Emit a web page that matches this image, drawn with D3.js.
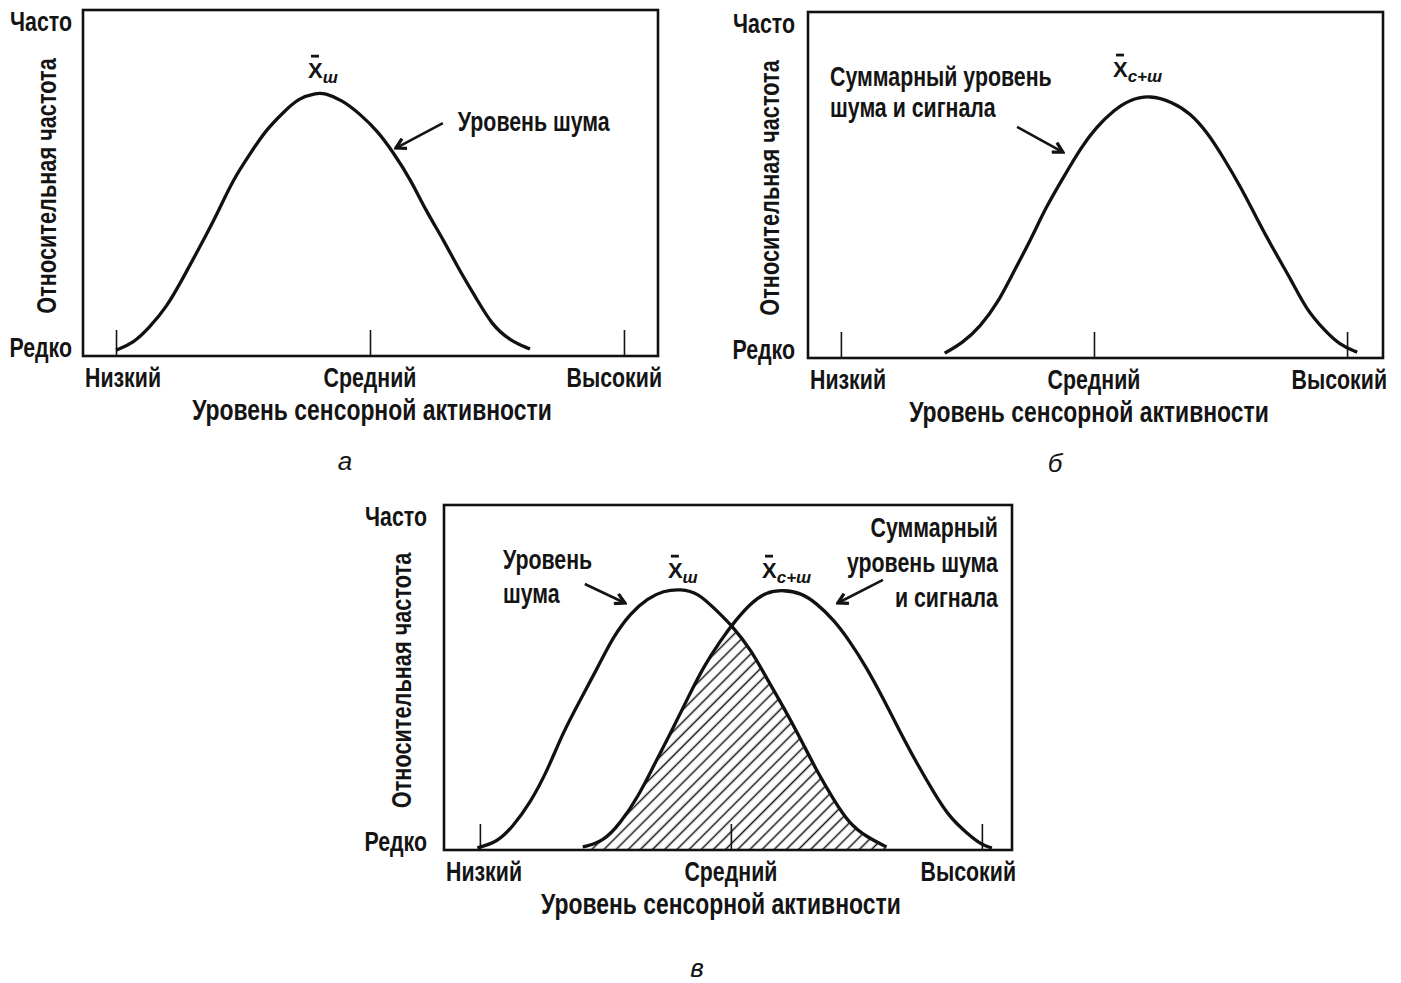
<!DOCTYPE html>
<html>
<head>
<meta charset="utf-8">
<script src="https://cdn.jsdelivr.net/npm/d3@7"></script>
<style>
  body { margin: 0; background: #fff; }
  text { font-family: "Liberation Sans", Arial, sans-serif; font-weight: bold; fill: #141414; }
</style>
</head>
<body>
<script>
// x axis: three marked levels of sensory activity
const tickLevels = [1, 2, 3];
const tickLabels = ["Низкий", "Средний", "Высокий"];
const yEndLabels = ["Часто", "Редко"];
const xTitle = "Уровень сенсорной активности";
const yTitle = "Относительная частота";
const panelLetters = ["а", "б", "в"];

// [level, relative frequency]
const noiseA = [[1.00,0.017],[1.07,0.038],[1.13,0.081],[1.20,0.142],[1.26,0.22],[1.33,0.315],[1.40,0.413],[1.46,0.509],[1.53,0.587],[1.59,0.653],[1.66,0.705],[1.72,0.746],[1.79,0.76],[1.82,0.76],[1.89,0.74],[1.96,0.70],[2.03,0.65],[2.09,0.59],[2.16,0.51],[2.22,0.42],[2.29,0.335],[2.35,0.25],[2.42,0.165],[2.48,0.09],[2.55,0.045],[2.63,0.02]];
const signalB = [[1.41,0.014],[1.48,0.043],[1.55,0.09],[1.62,0.159],[1.68,0.246],[1.75,0.341],[1.81,0.436],[1.88,0.523],[1.95,0.61],[2.01,0.668],[2.08,0.717],[2.14,0.746],[2.22,0.76],[2.31,0.74],[2.38,0.708],[2.45,0.65],[2.51,0.581],[2.58,0.494],[2.64,0.408],[2.71,0.312],[2.78,0.225],[2.84,0.139],[2.91,0.081],[2.97,0.038],[3.04,0.017]];
const noiseC = [[0.99,0.006],[1.07,0.023],[1.13,0.067],[1.20,0.136],[1.27,0.232],[1.33,0.339],[1.40,0.435],[1.47,0.53],[1.53,0.617],[1.60,0.687],[1.67,0.73],[1.73,0.751],[1.80,0.757],[1.87,0.745],[1.94,0.696],[2.01,0.646],[2.08,0.58],[2.14,0.501],[2.21,0.414],[2.28,0.319],[2.34,0.232],[2.41,0.145],[2.47,0.078],[2.54,0.038],[2.62,0.009]];
const signalC = [[1.41,0.009],[1.49,0.023],[1.56,0.078],[1.63,0.154],[1.69,0.241],[1.76,0.339],[1.83,0.443],[1.89,0.53],[1.96,0.609],[2.02,0.667],[2.08,0.716],[2.14,0.748],[2.21,0.754],[2.28,0.745],[2.34,0.716],[2.41,0.667],[2.47,0.609],[2.54,0.53],[2.61,0.435],[2.67,0.348],[2.74,0.252],[2.81,0.165],[2.87,0.096],[2.94,0.049],[3.00,0.014],[3.04,0.006]];

// annotations, in data units: text lines, mean labels, arrows [tail, head]
const notesA = [{ lines: ["Уровень шума"], x: 2.346, y: [0.65], anchor: "start" }];
const notesB = [{ lines: ["Суммарный уровень", "шума и сигнала"], x: 0.957, y: [0.786, 0.697], anchor: "start" }];
const notesC = [
  { lines: ["Уровень", "шума"], x: 1.092, y: [0.814, 0.716], anchor: "start" },
  { lines: ["Суммарный", "уровень шума", "и сигнала"], x: 3.064, y: [0.907, 0.806, 0.704], anchor: "end" }
];
const meansA = [{ sub: "ш", x: 1.756, y: 0.803 }];
const meansB = [{ sub: "с+ш", x: 2.075, y: 0.812 }];
const meansC = [{ sub: "ш", x: 1.749, y: 0.788 }, { sub: "с+ш", x: 2.124, y: 0.788 }];
const arrowsA = [[[2.287, 0.673], [2.102, 0.601]]];
const arrowsB = [[[1.696, 0.668], [1.877, 0.595]]];
const arrowsC = [[[1.418, 0.771], [1.578, 0.716]], [[2.606, 0.783], [2.426, 0.716]]];

let svg = "";
const squeeze = 0.79; // the scan uses a condensed face

window.onload = function() {
  svg = d3.select("body").append("svg")
    .attr("width", 1401)
    .attr("height", 983);

  let defs = svg.append("defs");
  defs.append("pattern")
    .attr("id", "hatch")
    .attr("patternUnits", "userSpaceOnUse")
    .attr("width", 8.6)
    .attr("height", 8.6)
    .attr("patternTransform", "rotate(45)")
    .append("line")
      .attr("x1", 4.3).attr("x2", 4.3)
      .attr("y1", 0).attr("y2", 8.6)
      .attr("stroke", "#141414")
      .attr("stroke-width", 1.5);

  defs.append("marker")
    .attr("id", "head")
    .attr("viewBox", "0 0 12 12")
    .attr("refX", 10).attr("refY", 6)
    .attr("markerWidth", 13).attr("markerHeight", 13)
    .attr("markerUnits", "userSpaceOnUse")
    .attr("orient", "auto")
    .append("path")
      .attr("d", "M1,1 L10,6 L1,11")
      .attr("fill", "none")
      .attr("stroke", "#141414")
      .attr("stroke-width", 3);

  makePanel({ left: 83, top: 10, width: 575, height: 346, xDomain: [0.87, 3.134],
    endGap: 11, yTitleGap: 27, titleDx: 2, letterX: 345, letterY: 470,
    curves: [noiseA], notes: notesA, means: meansA, arrows: arrowsA, letter: panelLetters[0] });

  makePanel({ left: 808, top: 12, width: 575, height: 346, xDomain: [0.87, 3.142],
    endGap: 13, yTitleGap: 29, titleDx: -5, letterX: 1055, letterY: 472,
    curves: [signalB], notes: notesB, means: meansB, arrows: arrowsB, letter: panelLetters[1] });

  makePanel({ left: 444, top: 505, width: 568, height: 345, xDomain: [0.857, 3.12],
    endGap: 17, yTitleGap: 33, titleDx: -10, letterX: 697, letterY: 977,
    curves: [noiseC, signalC], overlap: true, notes: notesC, means: meansC, arrows: arrowsC, letter: panelLetters[2] });
}

// narrow the glyphs of a text to mimic the condensed typeface
function condense(sel) {
  sel.each(function() {
    let w = this.getComputedTextLength();
    this.setAttribute("textLength", w * squeeze);
    this.setAttribute("lengthAdjust", "spacingAndGlyphs");
  });
  return sel;
}

function addText(g, x, y, txt, size, anchor) {
  let t = g.append("text")
    .attr("x", x)
    .attr("y", y)
    .attr("text-anchor", anchor)
    .style("font-size", size + "px")
    .text(txt);
  return condense(t);
}

function makePanel(cfg) {
  let g = svg.append("g");
  let bottom = cfg.top + cfg.height;
  let right = cfg.left + cfg.width;

  let x = d3.scaleLinear().domain(cfg.xDomain).range([cfg.left, right]);
  let y = d3.scaleLinear().domain([0, 1]).range([bottom, cfg.top]);

  let line = d3.line()
    .x((d) => x(d[0]))
    .y((d) => y(d[1]))
    .curve(d3.curveBasis);

  // hatched overlap: area under the noise curve clipped by the signal area
  if (cfg.overlap) {
    let area = d3.area()
      .x((d) => x(d[0]))
      .y0(bottom)
      .y1((d) => y(d[1]))
      .curve(d3.curveBasis);
    svg.select("defs").append("clipPath")
      .attr("id", "overlapClip")
      .append("path")
        .attr("d", area(cfg.curves[1]));
    g.append("path")
      .attr("d", area(cfg.curves[0]))
      .attr("fill", "url(#hatch)")
      .attr("clip-path", "url(#overlapClip)");
  }

  // inner ticks at the three levels
  let axis = d3.axisBottom(x)
    .tickValues(tickLevels)
    .tickSizeInner(-26)
    .tickSizeOuter(0)
    .tickFormat("");
  let axisG = g.append("g")
    .attr("transform", "translate(0," + bottom + ")")
    .call(axis);
  axisG.select(".domain").remove();
  axisG.selectAll(".tick line")
    .attr("stroke", "#141414")
    .attr("stroke-width", 1.6);

  cfg.curves.forEach((c) => {
    g.append("path")
      .datum(c)
      .attr("d", line)
      .attr("fill", "none")
      .attr("stroke", "#111")
      .attr("stroke-width", 3.3);
  });

  g.append("rect")
    .attr("x", cfg.left)
    .attr("y", cfg.top)
    .attr("width", cfg.width)
    .attr("height", cfg.height)
    .attr("fill", "none")
    .attr("stroke", "#111")
    .attr("stroke-width", 2.6);

  // tick labels: first sits at the box's left edge, last at its right edge
  let anchors = ["start", "middle", "end"];
  let labelX = [cfg.left + 2, x(tickLevels[1]), right + 4];
  tickLabels.forEach((t, i) => {
    addText(g, labelX[i], bottom + 31, t, 27, anchors[i]);
  });

  addText(g, x(tickLevels[1]) + cfg.titleDx, bottom + 64, xTitle, 29, "middle");

  addText(g, cfg.left - cfg.endGap, cfg.top + 21, yEndLabels[0], 27, "end");
  addText(g, cfg.left - cfg.endGap, bottom + 1, yEndLabels[1], 27, "end");

  let yt = addText(g, 0, 0, yTitle, 27.5, "middle");
  yt.attr("transform", "translate(" + (cfg.left - cfg.yTitleGap) + "," + (cfg.top + cfg.height / 2 + 3) + ")rotate(-90)");

  cfg.notes.forEach((n) => {
    n.lines.forEach((t, i) => {
      addText(g, x(n.x), y(n.y[i]), t, 27, n.anchor);
    });
  });

  // mean labels: X with a bar and an italic subscript
  cfg.means.forEach((m) => {
    let t = g.append("text")
      .attr("x", x(m.x))
      .attr("y", y(m.y));
    t.append("tspan")
      .style("font-size", "22px")
      .text("X");
    t.append("tspan")
      .attr("dy", 5)
      .style("font-size", "17px")
      .style("font-style", "italic")
      .text(m.sub);
    g.append("line")
      .attr("x1", x(m.x) + 3)
      .attr("x2", x(m.x) + 11)
      .attr("y1", y(m.y) - 22)
      .attr("y2", y(m.y) - 22)
      .attr("stroke", "#141414")
      .attr("stroke-width", 2.8);
  });

  cfg.arrows.forEach((a) => {
    g.append("line")
      .attr("x1", x(a[0][0]))
      .attr("y1", y(a[0][1]))
      .attr("x2", x(a[1][0]))
      .attr("y2", y(a[1][1]))
      .attr("stroke", "#141414")
      .attr("stroke-width", 2.6)
      .attr("marker-end", "url(#head)");
  });

  g.append("text")
    .attr("x", cfg.letterX)
    .attr("y", cfg.letterY)
    .attr("text-anchor", "middle")
    .style("font-weight", "normal")
    .style("font-style", "italic")
    .style("font-size", "26px")
    .text(cfg.letter);
}
</script>
</body>
</html>
